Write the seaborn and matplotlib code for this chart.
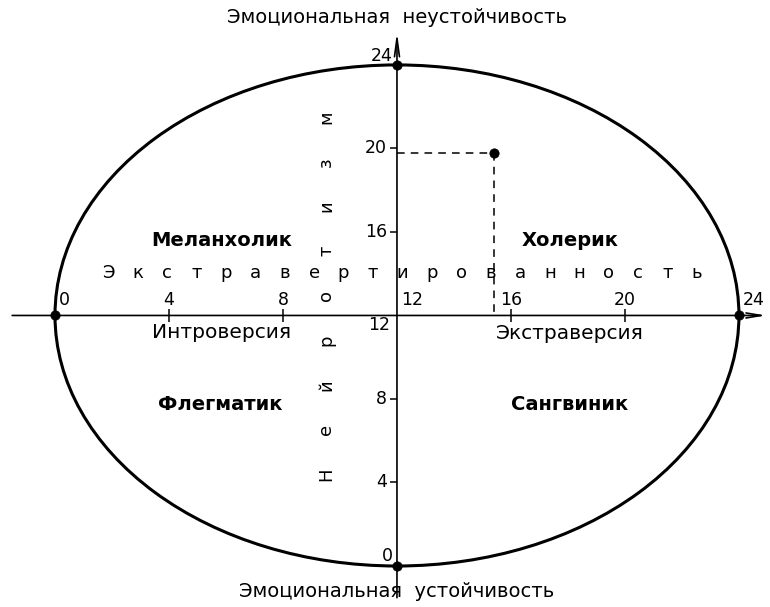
import numpy as np
import pandas as pd
import seaborn as sns
import matplotlib.pyplot as plt
from matplotlib.patches import Ellipse

# scale values (both axes go 0..24, centre 12)
x_ticks = [0, 4, 8, 12, 16, 20, 24]
y_ticks = [0, 4, 8, 12, 16, 20, 24]
pole_x = [0, 24, 12, 12]
pole_y = [12, 12, 0, 24]
subject_x = 15.4
subject_y = 19.8

quadrants = ['Меланхолик', 'Холерик', 'Флегматик', 'Сангвиник']
quad_x = [5.86, 18.07, 5.79, 18.07]
quad_y = [15.6, 15.6, 7.72, 7.75]

top_label = 'Эмоциональная  неустойчивость'
bottom_label = 'Эмоциональная  устойчивость'
h_word = 'Экстравертированность'
v_word = 'Нейротизм'

sns.set_theme(style='white')
plt.rcParams['font.family'] = ['DejaVu Sans']
plt.rcParams['text.color'] = 'black'

fig = plt.figure(figsize=(7.7, 6.07), dpi=100)
ax = fig.add_axes([0, 0, 1, 1])

# circle
ax.add_patch(Ellipse((12, 12), 24, 24, fill=False, lw=2.2, color='black'))

# axes with arrows
ax.annotate('', xy=(25.05, 12), xytext=(-1.6, 12),
            arrowprops=dict(arrowstyle='->,head_length=0.9,head_width=0.15', lw=1.2, color='black'))
ax.annotate('', xy=(12, 25.7), xytext=(12, -1.65),
            arrowprops=dict(arrowstyle='->,head_length=1.1,head_width=0.15', lw=1.2, color='black'))

# ticks
inner_x = [t for t in x_ticks if t not in (0, 12, 24)]
inner_y = [t for t in y_ticks if t not in (0, 12, 24)]
ax.vlines(inner_x, 11.7, 12.3, color='black', lw=1.1)
ax.hlines(inner_y, 11.75, 12, color='black', lw=1.1)

fs_tick = 12.5
for t in x_ticks:
    if t in (0, 12, 24):
        ax.text(t + 0.15, 12.3, str(t), ha='left', va='bottom', fontsize=fs_tick)
    else:
        ax.text(t, 12.3, str(t), ha='center', va='bottom', fontsize=fs_tick)
for t in y_ticks:
    if t == 24:
        ax.text(11.85, 24.45, str(t), ha='right', va='center', fontsize=fs_tick)
    elif t == 0:
        ax.text(11.85, 0.5, str(t), ha='right', va='center', fontsize=fs_tick)
    elif t == 12:
        ax.text(11.75, 11.55, str(t), ha='right', va='center', fontsize=fs_tick)
    else:
        ax.text(11.65, t, str(t), ha='right', va='center', fontsize=fs_tick)

# dashed projection of the subject
ax.plot([12, subject_x], [subject_y, subject_y], ls=(0, (5, 4)), color='black', lw=1.1)
ax.plot([subject_x, subject_x], [subject_y, 12], ls=(0, (5, 4)), color='black', lw=1.1)

pts = pd.DataFrame({'x': pole_x + [subject_x], 'y': pole_y + [subject_y]})
sns.scatterplot(data=pts, x='x', y='y', color='black', s=45, edgecolor='black', ax=ax, zorder=5)
ax.set_xlim(-1.93, 25.09)
ax.set_ylim(-1.964, 27.11)
ax.axis('off')

# quadrant names
for name, qx, qy in zip(quadrants, quad_x, quad_y):
    ax.text(qx, qy, name, ha='center', va='center', fontsize=14, fontweight='bold')

ax.text(5.86, 11.2, 'Интроверсия', ha='center', va='center', fontsize=14.5)
ax.text(18.07, 11.15, 'Экстраверсия', ha='center', va='center', fontsize=14.5)

# spaced-out scale words
for ch, px in zip(h_word, np.linspace(1.86, 22.53, len(h_word))):
    ax.text(px, 14.05, ch, ha='center', va='center', fontsize=13)
for ch, py in zip(v_word, np.linspace(4.4, 21.5, len(v_word))):
    ax.text(9.51, py, ch, ha='center', va='center', fontsize=13, rotation=90)

ax.text(12, 26.25, top_label, ha='center', va='center', fontsize=14)
ax.text(12, -1.2, bottom_label, ha='center', va='center', fontsize=14)

fig.savefig('out.png', dpi=100)
